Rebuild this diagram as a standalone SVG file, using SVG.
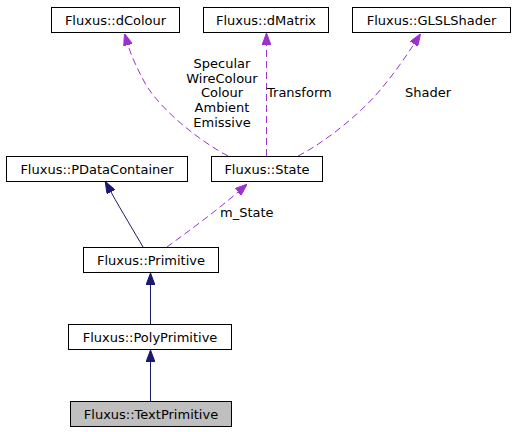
<svg xmlns="http://www.w3.org/2000/svg" width="515" height="432" viewBox="0 0 515 432">
<style>
text{font-family:"DejaVu Sans","Liberation Sans",sans-serif;font-size:13px;fill:#000}
.node rect{fill:#fff;stroke:#000;stroke-width:1}
.node text{text-anchor:middle}
.inh{fill:none;stroke:#191970;stroke-width:1}
.use{fill:none;stroke:#9a32cd;stroke-width:1;stroke-dasharray:7,4}
.lbl{text-anchor:middle}
</style>
<defs>
<marker id="ah-navy" viewBox="0 0 12 9" refX="0" refY="4.5" markerWidth="12" markerHeight="9" markerUnits="userSpaceOnUse" orient="auto">
<path d="M0,0 L12,4.5 L0,9 Z" fill="#191970" stroke="#191970"/>
</marker>
<marker id="ah-purple" viewBox="0 0 12 9" refX="0" refY="4.5" markerWidth="12" markerHeight="9" markerUnits="userSpaceOnUse" orient="auto">
<path d="M0,0 L12,4.5 L0,9 Z" fill="#9a32cd" stroke="#9a32cd"/>
</marker>
</defs>
<g id="connectors">
<path class="use" d="M228,156 C205,144 165,115 146,85 C138,70 132,58 128,45" marker-end="url(#ah-purple)"/>
<path class="use" d="M266.5,156 L266.5,45" marker-end="url(#ah-purple)"/>
<path class="use" d="M298,156 C322,144 355,118 375,96 C390,79 403,61 414,44" marker-end="url(#ah-purple)"/>
<path class="inh" d="M143,247 C135,233 122,212 111,192" marker-end="url(#ah-navy)"/>
<path class="use" d="M167,247 C190,230 215,212 238,192" marker-end="url(#ah-purple)"/>
<path class="inh" d="M150.5,324 L150.5,285" marker-end="url(#ah-navy)"/>
<path class="inh" d="M150.5,401 L150.5,362" marker-end="url(#ah-navy)"/>
<text class="lbl" x="222" y="68">Specular</text>
<text class="lbl" x="222" y="83">WireColour</text>
<text class="lbl" x="222" y="97">Colour</text>
<text class="lbl" x="222" y="112">Ambient</text>
<text class="lbl" x="222" y="127">Emissive</text>
<text x="267" y="97">Transform</text>
<text x="405" y="97">Shader</text>
<text x="220" y="217">m_State</text>
</g>
<g id="dColour" class="node"><rect x="51.5" y="7.5" width="128" height="25"/><text x="115.5" y="24.5">Fluxus::dColour</text></g>
<g id="dMatrix" class="node"><rect x="203.5" y="7.5" width="125" height="25"/><text x="266" y="24.5">Fluxus::dMatrix</text></g>
<g id="GLSLShader" class="node"><rect x="352.5" y="7.5" width="158" height="25"/><text x="431.5" y="24.5">Fluxus::GLSLShader</text></g>
<g id="PDataContainer" class="node"><rect x="6.5" y="156.5" width="181" height="25"/><text x="97" y="173.5">Fluxus::PDataContainer</text></g>
<g id="State" class="node"><rect x="211.5" y="156.5" width="111" height="25"/><text x="267" y="173.5">Fluxus::State</text></g>
<g id="Primitive" class="node"><rect x="83.5" y="247.5" width="135" height="25"/><text x="151" y="264.5">Fluxus::Primitive</text></g>
<g id="PolyPrimitive" class="node"><rect x="68.5" y="324.5" width="163" height="25"/><text x="150" y="341.5">Fluxus::PolyPrimitive</text></g>
<g id="TextPrimitive" class="node"><rect x="70.5" y="401.5" width="161" height="25" style="fill:#bfbfbf"/><text x="151" y="418.5">Fluxus::TextPrimitive</text></g>
</svg>
